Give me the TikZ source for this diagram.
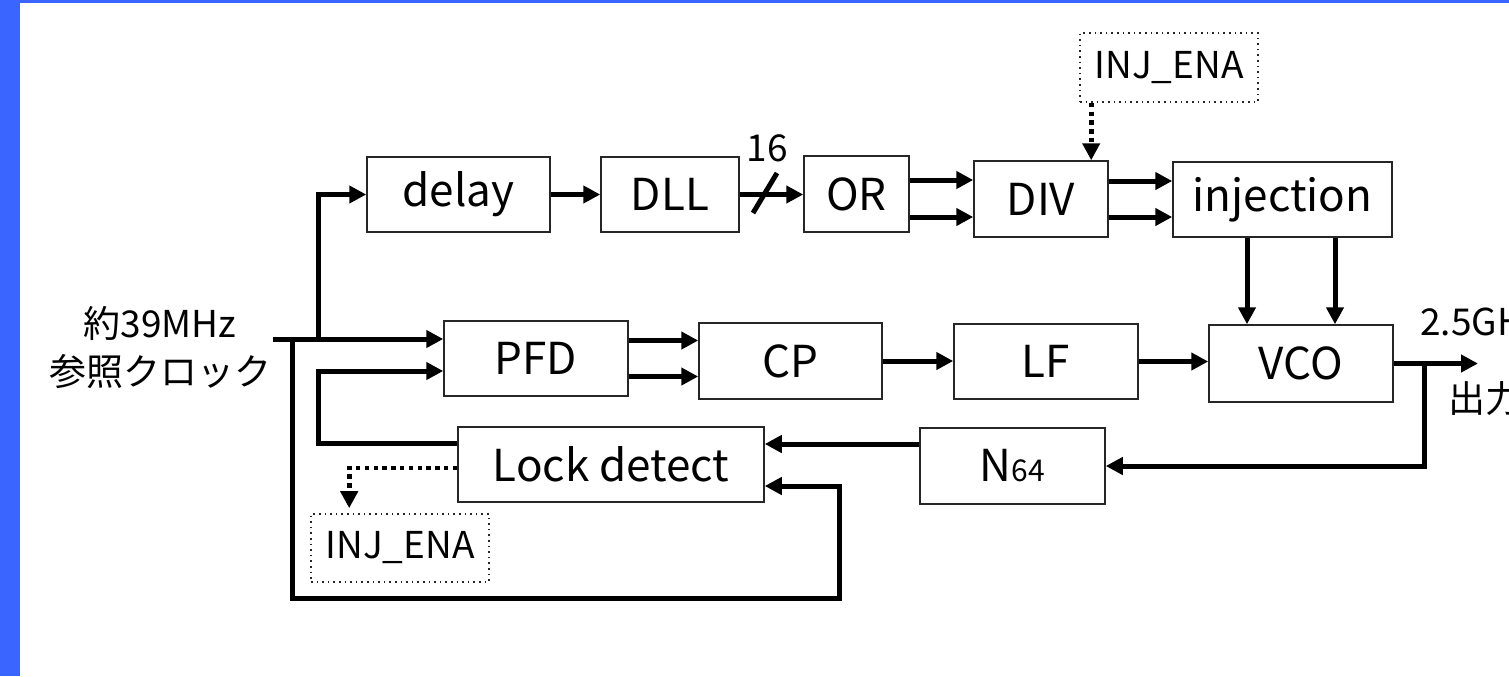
\documentclass[tikz,border=0pt]{standalone}
\usepackage{fontspec}
\setmainfont{Noto Sans CJK JP}
\usetikzlibrary{arrows.meta,calc}
\definecolor{frameblue}{RGB}{58,102,255}
\begin{document}
\begin{tikzpicture}[x=0.5pt,y=-0.5pt,
  blk/.style={draw=black!85, line width=0.75pt, inner sep=0pt, font=\fontsize{22}{26}\selectfont},
  dbox/.style={draw=black!85, line width=0.8pt, dotted, inner sep=0pt, font=\fontsize{18.5}{22}\selectfont},
  sig/.style={line width=2.5pt, line join=miter, -{Triangle[length=8.5pt,width=8.5pt]}},
  wire/.style={line width=2.5pt, line join=miter},
  dsig/.style={line width=2.4pt, dash pattern=on 2.2pt off 2.2pt, -{Triangle[length=8.5pt,width=8.5pt]}},
  lbl/.style={font=\fontsize{18.5}{24}\selectfont, inner sep=0pt}]
\useasboundingbox (0,0) rectangle (1509,676);
\fill[white] (0,0) rectangle (1509,676);
\fill[frameblue] (0,0) rectangle (20,676);
\fill[frameblue] (0,0) rectangle (1509,2.5);

% blocks
\node[blk, minimum width=91.5pt, minimum height=37.5pt] (delay) at (458.5,194.5) {delay};
\node[blk, minimum width=69pt, minimum height=37.5pt] (DLL) at (670,194.5) {DLL};
\node[blk, minimum width=52.5pt, minimum height=38pt] (OR) at (856.5,194) {OR};
\node[blk, minimum width=67pt, minimum height=38pt] (DIV) at (1041,199) {DIV};
\node[blk, minimum width=109.5pt, minimum height=37.5pt] (inj) at (1282.5,199.5) {injection};
\node[dbox, minimum width=89pt, minimum height=34.5pt] (injt) at (1169,67.5) {INJ\_ENA};
\node[blk, minimum width=92pt, minimum height=37.5pt] (PFD) at (536,358.5) {PFD};
\node[blk, minimum width=91.5pt, minimum height=38pt] (CP) at (790.5,361) {CP};
\node[blk, minimum width=92pt, minimum height=37.5pt] (LF) at (1046,361.5) {LF};
\node[blk, minimum width=92pt, minimum height=38.5pt] (VCO) at (1301,363.5) {VCO};
\node[blk, minimum width=153pt, minimum height=37.5pt] (lock) at (611,464.5) {Lock detect};
\node[blk, minimum width=92.5pt, minimum height=38pt] (N64) at (1012.5,466) {N{\fontsize{15}{18}\selectfont 64}};
\node[dbox, minimum width=89pt, minimum height=34pt] (injb) at (400,548) {INJ\_ENA};

% labels
\node[lbl, align=center] (ref) at (160,348) {約39MHz\\参照クロック};
\node[lbl, anchor=west] (fout) at (1420,322) {2.5GHz};
\node[lbl, anchor=west] (oout) at (1448,399) {出力};
\node[lbl] (n16) at (767,148) {16};

% coordinates
\coordinate (in) at (273,339);
\coordinate (br1) at (318,339);
\coordinate (br2) at (292,339);
\coordinate (lp) at (839,598);
\coordinate (fb) at (318,405);
\coordinate (out) at (1478,363.5);
\coordinate (br3) at (1424,363.5);
\coordinate (d1) at ($(injt.south west)+(12,0)$);
\coordinate (v1) at ($(inj.south)+(-35.5,0)$);
\coordinate (v2) at ($(inj.south)+(52.5,0)$);
\coordinate (s1) at (753,213);
\coordinate (s2) at (777,173);

% input and branches
\draw[sig] (in) -- (in -| PFD.west);
\draw[sig] (br1) |- (delay.west);
\draw[sig] (br2) |- (lp) |- ($(lock.east)+(0,21.5)$);
\draw[sig] ($(lock.west)+(0,-21.5)$) -| (fb) |- ($(PFD.west)+(0,12.5)$);
\draw[dsig] ($(lock.west)+(0,3.5)$) -| ($(injb.north west)+(39,-5)$);

% top row
\draw[sig] (delay.east) -- (delay.east -| DLL.west);
\draw[sig] (DLL.east) -- (DLL.east -| OR.west);
\draw[wire] (s1) -- (s2);
\draw[sig] ([yshift=7pt]OR.east) -- ([yshift=7pt]OR.east -| DIV.west);
\draw[sig] ([yshift=-11.5pt]OR.east) -- ([yshift=-11.5pt]OR.east -| DIV.west);
\draw[sig] ([yshift=9pt]DIV.east) -- ([yshift=9pt]DIV.east -| inj.west);
\draw[sig] ([yshift=-9pt]DIV.east) -- ([yshift=-9pt]DIV.east -| inj.west);
\draw[dsig] (d1) -- (d1 |- DIV.north);
\draw[sig] (v1) -- (v1 |- VCO.north);
\draw[sig] (v2) -- (v2 |- VCO.north);

% middle row
\draw[sig] ([yshift=9pt]PFD.east) -- ([yshift=9pt]PFD.east -| CP.west);
\draw[sig] ([yshift=-9pt]PFD.east) -- ([yshift=-9pt]PFD.east -| CP.west);
\draw[sig] (CP.east) -- (CP.east -| LF.west);
\draw[sig] (LF.east) -- (LF.east -| VCO.west);
\draw[sig] (VCO.east) -- (out);
\draw[sig] (br3) |- (N64.east);
\draw[sig] ([yshift=11pt]N64.west) -- ([yshift=11pt]N64.west -| lock.east);
\end{tikzpicture}
\end{document}
